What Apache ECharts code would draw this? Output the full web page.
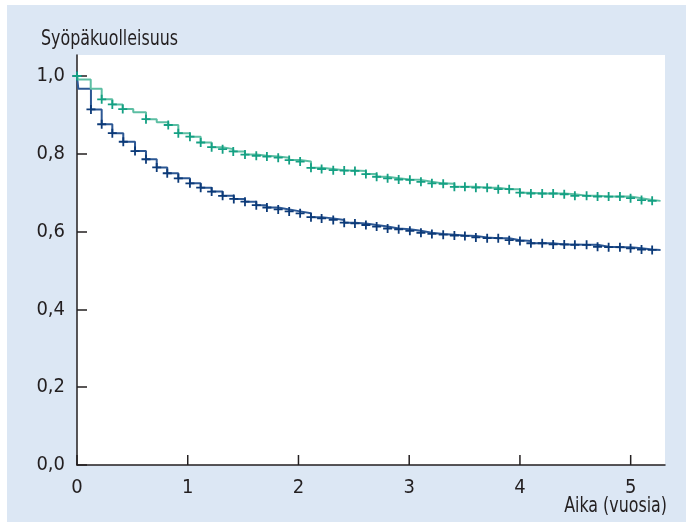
<!DOCTYPE html>
<html>
<head>
<meta charset="utf-8">
<script src="https://cdn.jsdelivr.net/npm/echarts@6/dist/echarts.min.js"></script>
<style>
html,body{margin:0;padding:0;background:#fff;}
#chart{width:686px;height:528px;}
</style>
</head>
<body>
<div id="chart"></div>
<script>
var FONT = "'Liberation Sans Narrow', 'DejaVu Sans Condensed', 'Roboto', sans-serif";

var titleText = 'Syöpäkuolleisuus';
var xAxisName = 'Aika (vuosia)';
var yTicks = [0, 0.2, 0.4, 0.6, 0.8, 1.0];
var xTicks = [0, 1, 2, 3, 4, 5];

// Green curve (time in years, survival), marks: 1 = censor "+" shown
var greenTimes  = [0, 0.008, 0.124, 0.223, 0.319, 0.413, 0.508, 0.623, 0.720, 0.824, 0.915, 1.020, 1.117, 1.216, 1.315, 1.411, 1.517, 1.619, 1.715, 1.817, 1.916, 2.015, 2.113, 2.209, 2.314, 2.413, 2.510, 2.609, 2.706, 2.805, 2.905, 3.006, 3.106, 3.205, 3.307, 3.408, 3.503, 3.602, 3.704, 3.804, 3.903, 4.000, 4.099, 4.201, 4.300, 4.400, 4.496, 4.602, 4.701, 4.801, 4.903, 4.999, 5.098, 5.194, 5.27];
var greenValues = [1.0, 0.991, 0.967, 0.940, 0.927, 0.915, 0.907, 0.889, 0.881, 0.874, 0.853, 0.844, 0.829, 0.817, 0.812, 0.806, 0.798, 0.795, 0.793, 0.790, 0.784, 0.780, 0.764, 0.761, 0.758, 0.757, 0.756, 0.748, 0.741, 0.737, 0.734, 0.733, 0.728, 0.724, 0.723, 0.715, 0.715, 0.713, 0.713, 0.709, 0.709, 0.700, 0.698, 0.698, 0.698, 0.696, 0.692, 0.692, 0.690, 0.690, 0.690, 0.686, 0.681, 0.679, 0.679];
var greenMarks  = [1, 0, 0, 1, 1, 1, 0, 1, 0, 1, 1, 1, 1, 1, 1, 1, 1, 1, 1, 1, 1, 1, 1, 1, 1, 1, 1, 1, 1, 1, 1, 1, 1, 1, 1, 1, 1, 1, 1, 1, 1, 1, 1, 1, 1, 1, 1, 1, 1, 1, 1, 1, 1, 1, 0];

// Blue curve
var blueTimes  = [0, 0.012, 0.126, 0.223, 0.319, 0.418, 0.524, 0.623, 0.720, 0.815, 0.915, 1.020, 1.117, 1.216, 1.315, 1.416, 1.517, 1.619, 1.715, 1.817, 1.916, 2.015, 2.113, 2.209, 2.314, 2.413, 2.510, 2.609, 2.706, 2.805, 2.905, 3.006, 3.106, 3.205, 3.307, 3.408, 3.503, 3.602, 3.704, 3.804, 3.903, 4.000, 4.099, 4.201, 4.300, 4.400, 4.496, 4.602, 4.701, 4.801, 4.903, 4.999, 5.098, 5.194, 5.27];
var blueValues = [1.0, 0.967, 0.914, 0.876, 0.853, 0.831, 0.807, 0.786, 0.765, 0.750, 0.737, 0.724, 0.713, 0.703, 0.692, 0.684, 0.677, 0.668, 0.662, 0.657, 0.652, 0.647, 0.637, 0.634, 0.630, 0.623, 0.621, 0.617, 0.613, 0.608, 0.606, 0.602, 0.597, 0.594, 0.592, 0.590, 0.589, 0.585, 0.583, 0.583, 0.578, 0.576, 0.570, 0.570, 0.567, 0.567, 0.566, 0.566, 0.561, 0.560, 0.560, 0.557, 0.554, 0.553, 0.553];
var blueMarks  = [1, 0, 1, 1, 1, 1, 1, 1, 1, 1, 1, 1, 1, 1, 1, 1, 1, 1, 1, 1, 1, 1, 1, 1, 1, 1, 1, 1, 1, 1, 1, 1, 1, 1, 1, 1, 1, 1, 1, 1, 1, 1, 1, 1, 1, 1, 1, 1, 1, 1, 1, 1, 1, 1, 0];

var PLUS = 'path://M2,0H3V2H5V3H3V5H2V3H0V2H2Z';

function build(times, values, marks) {
  return times.map(function (t, i) {
    var d = { value: [t, values[i]] };
    if (!marks[i]) d.symbol = 'none';
    return d;
  });
}

var chart = echarts.init(document.getElementById('chart'), null, { renderer: 'canvas' });
var option = {
  backgroundColor: '#ffffff',
  animation: false,
  graphic: [
    { type: 'rect', z: -10, shape: { x: 7, y: 5, width: 679, height: 517 }, style: { fill: '#dce7f4' } },
    { type: 'text', x: 41, y: 40, scaleX: 0.84, style: { text: titleText, font: '21px ' + FONT, fill: '#231f20', textVerticalAlign: 'middle' } },
    { type: 'text', x: 667, y: 507, scaleX: 0.84, style: { text: xAxisName, font: '21px ' + FONT, fill: '#231f20', textAlign: 'right', textVerticalAlign: 'middle' } }
  ],
  grid: {
    left: 77, top: 55, right: 21, bottom: 63,
    show: true, backgroundColor: '#ffffff', borderWidth: 0
  },
  xAxis: {
    type: 'value', min: 0, max: 5.31, interval: 1,
    axisLine: { show: true, onZero: false, lineStyle: { color: '#231f20', width: 1.5 } },
    axisTick: { show: false },
    axisLabel: {
      margin: 13, fontFamily: FONT, fontSize: 20, color: '#231f20', customValues: xTicks,
      formatter: function (v) { return String(v); }
    },
    splitLine: { show: false }
  },
  yAxis: {
    type: 'value', min: 0, max: 1.054, interval: 0.2,
    axisLine: { show: true, lineStyle: { color: '#231f20', width: 1.5 } },
    axisTick: { show: true, inside: true, length: 10, lineStyle: { color: '#231f20', width: 1.5 }, customValues: yTicks },
    axisLabel: {
      margin: 12, fontFamily: FONT, fontSize: 20, color: '#231f20', customValues: yTicks,
      formatter: function (v) { return v.toFixed(1).replace('.', ','); }
    },
    splitLine: { show: false }
  },
  series: [
    {
      type: 'custom', name: 'xticks', z: 5, silent: true, clip: false,
      data: xTicks.map(function (v) { return [v, 0]; }),
      encode: { x: 0, y: 1 },
      renderItem: function (params, api) {
        var p = api.coord([api.value(0), 0]);
        return {
          type: 'line',
          shape: { x1: p[0], y1: p[1], x2: p[0], y2: p[1] - 10 },
          style: { stroke: '#231f20', lineWidth: 1.5 }
        };
      }
    },
    {
      type: 'line', name: 'blue', step: 'end', z: 2,
      data: build(blueTimes, blueValues, blueMarks),
      symbol: PLUS, symbolSize: 9, showAllSymbol: true,
      lineStyle: { color: '#2d5894', width: 2 },
      itemStyle: { color: '#0c3a78' }
    },
    {
      type: 'line', name: 'green', step: 'end', z: 3,
      data: build(greenTimes, greenValues, greenMarks),
      symbol: PLUS, symbolSize: 9, showAllSymbol: true,
      lineStyle: { color: '#5cbea3', width: 2 },
      itemStyle: { color: '#14a083' }
    }
  ]
};
chart.setOption(option);
</script>
</body>
</html>
